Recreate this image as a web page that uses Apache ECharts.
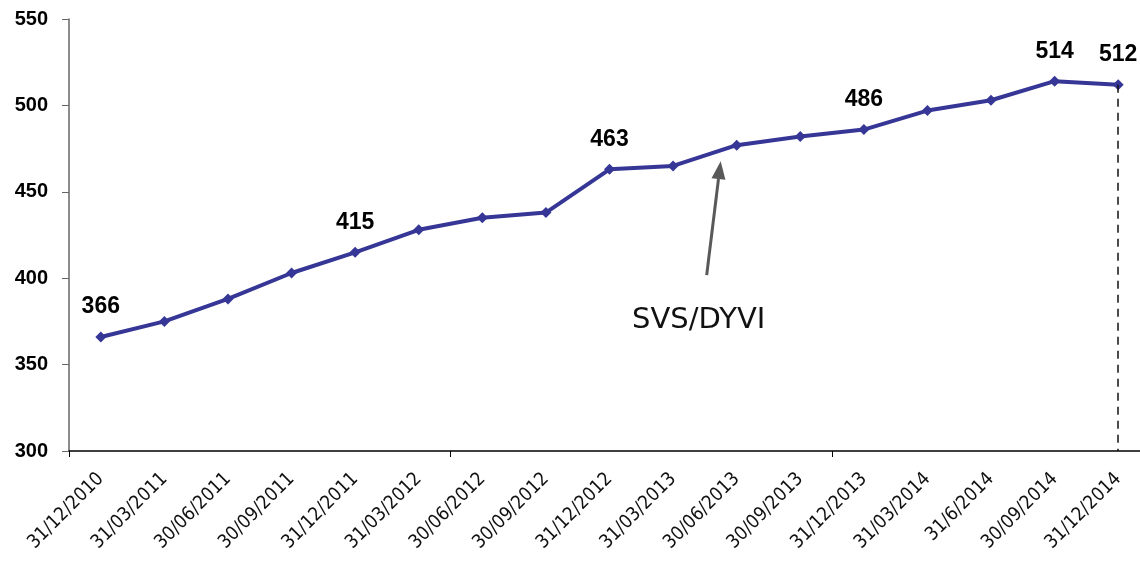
<!DOCTYPE html>
<html>
<head>
<meta charset="utf-8">
<script src="https://cdn.jsdelivr.net/npm/echarts@6/dist/echarts.min.js"></script>
<style>html,body{margin:0;padding:0;background:#fff;overflow:hidden}#c{width:1150px;height:561px}</style>
</head>
<body>
<div id="c"></div>
<script>
const categories = ['31/12/2010','31/03/2011','30/06/2011','30/09/2011','31/12/2011','31/03/2012','30/06/2012','30/09/2012','31/12/2012','31/03/2013','30/06/2013','30/09/2013','31/12/2013','31/03/2014','31/6/2014','30/09/2014','31/12/2014'];
const values = [366,375,388,403,415,428,435,438,463,465,477,482,486,497,503,514,512];
const labelledPoints = [0,4,8,12,15,16];
const yTicks = [300,350,400,450,500,550];
const annotationText = 'SVS/DYVI';
const annotationIndex = 10;

const chart = echarts.init(document.getElementById('c'));
const seriesData = values.map((v,i)=>({
  value: v,
  label: {show: labelledPoints.includes(i)}
}));
chart.setOption({
  animation:false,
  grid:{left:69, top:19, bottom:110, right:0},
  xAxis:{
    type:'category', data:categories, boundaryGap:true,
    axisLine:{lineStyle:{color:'#000',width:1.5}},
    axisTick:{show:true, interval:(i)=>i%6===0, length:6, lineStyle:{color:'#000'}},
    axisLabel:{interval:0, rotate:45, margin:25, color:'#111', fontSize:19, fontFamily:'DejaVu Sans Condensed'}
  },
  yAxis:{
    type:'value', min:yTicks[0], max:yTicks[yTicks.length-1], interval:50,
    splitLine:{show:false},
    axisLine:{show:true, lineStyle:{color:'#666',width:1.5}},
    axisTick:{show:true, inside:false, length:7, lineStyle:{color:'#666'}},
    axisLabel:{color:'#000', fontSize:20, fontWeight:'bold', fontFamily:'Liberation Sans', margin:21}
  },
  series:[{
    type:'line', data:seriesData,
    symbol:'diamond', symbolSize:11,
    lineStyle:{color:'#363696', width:4},
    itemStyle:{color:'#363696'},
    label:{position:'top', distance:13, fontSize:23, fontWeight:'bold', fontFamily:'Liberation Sans', color:'#000'},
    markLine:{
      silent:true, symbol:['none','none'],
      lineStyle:{type:[8,6], color:'#111', width:1.5},
      label:{show:false},
      data:[[{coord:[categories.length-1, values[values.length-1]]},{coord:[categories.length-1, yTicks[0]]}]]
    }
  }]
});

const p = chart.convertToPixel({xAxisIndex:0,yAxisIndex:0},[annotationIndex, values[annotationIndex]]);
const tip = [p[0]-16, p[1]+16];
const tail = [p[0]-30, p[1]+130];
const ang = Math.atan2(tip[1]-tail[1], tip[0]-tail[0]);
const L = 18, W = 7;
const base = [tip[0]-L*Math.cos(ang), tip[1]-L*Math.sin(ang)];
const nx = -Math.sin(ang), ny = Math.cos(ang);
chart.setOption({
  graphic:[
    {type:'line', shape:{x1:tail[0],y1:tail[1],x2:base[0],y2:base[1]}, style:{stroke:'#595959', lineWidth:3}},
    {type:'polygon', shape:{points:[tip,[base[0]+nx*W, base[1]+ny*W],[base[0]-nx*W, base[1]-ny*W]]}, style:{fill:'#595959'}},
    {type:'text', x:tail[0]-8, y:tail[1]+45, style:{text:annotationText, fill:'#111', font:'29px "DejaVu Sans"', align:'center', verticalAlign:'middle'}}
  ]
});
</script>
</body>
</html>
